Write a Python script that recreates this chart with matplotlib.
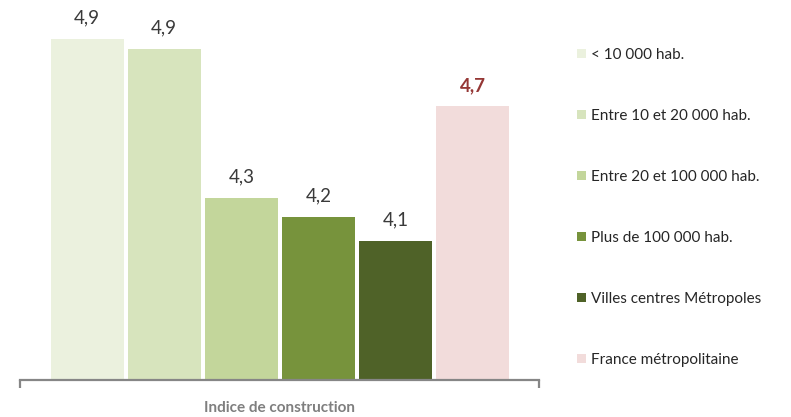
import matplotlib
import matplotlib.pyplot as plt

matplotlib.use("Agg")

categories = [
    "< 10 000 hab.",
    "Entre 10 et 20 000 hab.",
    "Entre 20 et 100 000 hab.",
    "Plus de 100 000 hab.",
    "Villes centres Métropoles",
    "France métropolitaine",
]
values = [4.94, 4.90, 4.28, 4.20, 4.10, 4.66]
colors = ["#EBF1DE", "#D7E4BD", "#C3D69B", "#77933C", "#4F6228", "#F2DCDB"]
group_label = "Indice de construction"

plt.rcParams["font.family"] = ["Lato", "DejaVu Sans"]

fig = plt.figure(figsize=(7.91, 4.17), dpi=100)
ax = fig.add_axes([20 / 791, 37 / 417, 519 / 791, 380 / 417])

bars = []
for i, (v, c, lab) in enumerate(zip(values, colors, categories)):
    b = ax.bar(i, v, width=0.945, color=c, label=lab, zorder=2)
    bars.append(b)

# value labels above each bar, the national figure in bold red
for i, v in enumerate(values):
    txt = f"{v:.1f}".replace(".", ",")
    last = i == len(values) - 1
    ax.annotate(
        txt,
        xy=(i, v),
        xytext=(0, 9),
        textcoords="offset points",
        ha="center",
        va="bottom",
        fontsize=13.5,
        color="#953735" if last else "#3A3A3A",
        fontweight="bold" if last else "normal",
    )

ax.set_xlim(-0.87, len(values) - 1 + 0.86)
ax.set_ylim(3.52, 3.52 + 380 / 240)

for side in ("top", "right", "left"):
    ax.spines[side].set_visible(False)
ax.spines["bottom"].set_color("#868686")
ax.spines["bottom"].set_linewidth(1.6)
ax.set_yticks([])
ax.set_xticks(ax.get_xlim())
ax.tick_params(axis="x", length=6, width=1.6, color="#868686", labelbottom=False)

ax.set_xlabel(group_label, fontsize=11, fontweight="bold", color="#7F7F7F", labelpad=9)

fig.legend(
    loc="upper left",
    bbox_to_anchor=(563 / 791, 1 - 34 / 417),
    frameon=False,
    fontsize=11,
    handlelength=0.6,
    handleheight=0.6,
    handletextpad=0.35,
    labelspacing=3.08,
    labelcolor="#262626",
)

fig.savefig("out.png", dpi=100, facecolor="white")
